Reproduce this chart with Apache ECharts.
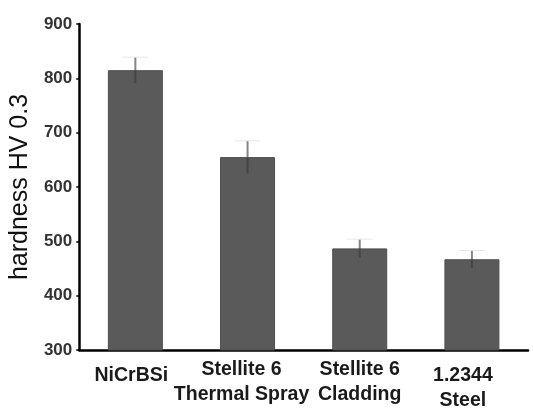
<!DOCTYPE html>
<html>
<head>
<meta charset="utf-8">
<script src="https://cdn.jsdelivr.net/npm/echarts@6/dist/echarts.min.js"></script>
<style>html,body{margin:0;padding:0;background:#fff}#c{width:533px;height:413px}</style>
</head>
<body>
<div id="c"></div>
<script>
var categories = ["NiCrBSi", "Stellite 6\nThermal Spray", "Stellite 6\nCladding", "1.2344\nSteel"];
var hardness = [815, 655, 487, 467];
var errors = [24, 30, 17, 16];
var yTicks = [300, 400, 500, 600, 700, 800, 900];

var labelPads = [[6, 8, 0, 0], [0, 12, 0, 0], [0, 0, 0, 0], [6, 18, 0, 0]];

var chart = echarts.init(document.getElementById('c'), null, {renderer: 'canvas'});
var errData = hardness.map(function (v, i) { return [i, v - errors[i], v + errors[i], v]; });

chart.setOption({
  animation: false,
  backgroundColor: '#fff',
  grid: {left: 78, right: 5, top: 24, bottom: 62},
  xAxis: {
    type: 'category',
    data: categories.map(function (c, i) {
      return {value: c, textStyle: {padding: labelPads[i]}};
    }),
    axisLine: {lineStyle: {color: '#000', width: 2.5}},
    axisTick: {show: false},
    axisLabel: {
      interval: 0, margin: 7,
      fontFamily: 'Liberation Sans', fontWeight: 'bold', fontSize: 19.5,
      lineHeight: 25, color: '#1a1a1a'
    }
  },
  yAxis: {
    type: 'value', min: yTicks[0], max: yTicks[yTicks.length - 1], interval: 100,
    name: 'hardness HV 0.3', nameLocation: 'middle', nameGap: 46, nameRotate: 90,
    nameTextStyle: {fontFamily: 'Liberation Sans', fontSize: 25, color: '#111'},
    axisLine: {show: true, lineStyle: {color: '#000', width: 2.5}},
    axisTick: {show: true, length: 3, lineStyle: {color: '#000', width: 1.5}},
    splitLine: {show: false},
    axisLabel: {
      margin: 7, fontFamily: 'Liberation Sans', fontWeight: 'bold', fontSize: 17, color: '#333'
    }
  },
  series: [
    {
      type: 'bar', data: hardness, barWidth: 55,
      itemStyle: {color: '#5a5a5a', borderColor: '#4e4e4e', borderWidth: 1}
    },
    {
      type: 'custom', data: errData, z: 5,
      renderItem: function (params, api) {
        var x = api.value(0);
        var lo = api.coord([x, api.value(1)]);
        var hi = api.coord([x, api.value(2)]);
        var mid = api.coord([x, api.value(3)]);
        var w = 26;
        return {
          type: 'group',
          children: [
            {type: 'line', shape: {x1: hi[0], y1: hi[1], x2: hi[0], y2: mid[1]}, style: {stroke: '#858585', lineWidth: 2}},
            {type: 'line', shape: {x1: mid[0], y1: mid[1], x2: mid[0], y2: lo[1]}, style: {stroke: '#454545', lineWidth: 2}},
            {type: 'line', shape: {x1: hi[0] - w / 2, y1: hi[1], x2: hi[0] + w / 2, y2: hi[1]}, style: {stroke: '#e8e8e8', lineWidth: 1}}
          ]
        };
      }
    }
  ]
});
</script>
</body>
</html>
